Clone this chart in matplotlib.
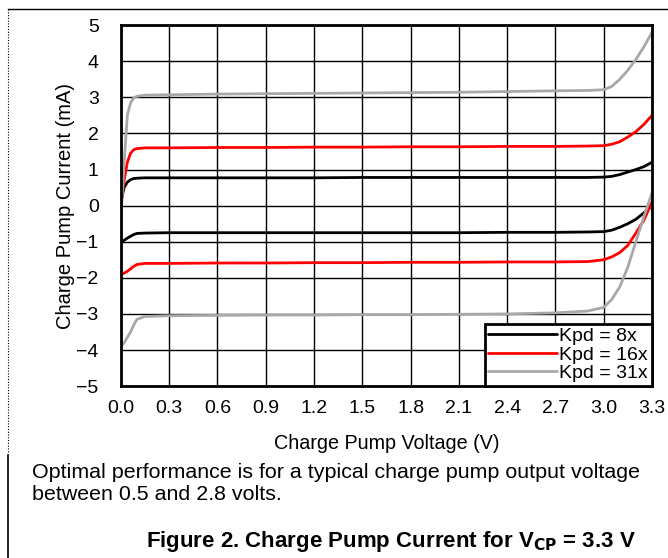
import matplotlib
matplotlib.use("Agg")
import matplotlib.pyplot as plt
from matplotlib.lines import Line2D

plt.rcParams['font.family'] = ['Liberation Sans', 'DejaVu Sans']
plt.rcParams['axes.unicode_minus'] = True

voltage = [0, 0.02, 0.04, 0.06, 0.08, 0.1, 0.15, 0.3, 0.6, 0.9, 1.2, 1.5, 1.8,
           2.1, 2.4, 2.7, 2.9, 3.0, 3.05, 3.1, 3.15, 3.2, 3.25, 3.3]

k8_source = [0.1, 0.5, 0.65, 0.72, 0.75, 0.76, 0.77, 0.77, 0.77, 0.77, 0.77, 0.78,
             0.78, 0.78, 0.78, 0.78, 0.78, 0.79, 0.81, 0.86, 0.93, 1.0, 1.08, 1.2]
k8_sink = [-1.0, -0.96, -0.9, -0.85, -0.8, -0.77, -0.76, -0.75, -0.75, -0.75, -0.75,
           -0.75, -0.75, -0.75, -0.74, -0.74, -0.73, -0.72, -0.68, -0.6, -0.5, -0.38,
           -0.2, 0.0]
k16_source = [0.0, 0.7, 1.2, 1.45, 1.55, 1.58, 1.6, 1.6, 1.61, 1.61, 1.62, 1.62,
              1.63, 1.63, 1.64, 1.64, 1.65, 1.66, 1.7, 1.77, 1.9, 2.05, 2.25, 2.5]
k16_sink = [-1.9, -1.87, -1.82, -1.75, -1.68, -1.63, -1.6, -1.6, -1.59, -1.59, -1.58,
            -1.58, -1.57, -1.57, -1.56, -1.56, -1.55, -1.5, -1.42, -1.3, -1.1, -0.76,
            -0.4, 0.1]
k31_source = [-0.3, 1.2, 2.5, 2.85, 2.98, 3.03, 3.06, 3.07, 3.09, 3.1, 3.11, 3.12,
              3.13, 3.14, 3.16, 3.18, 3.19, 3.21, 3.3, 3.5, 3.75, 4.05, 4.4, 4.8]
k31_sink = [-3.9, -3.8, -3.65, -3.5, -3.3, -3.15, -3.07, -3.05, -3.04, -3.03, -3.03,
            -3.02, -3.02, -3.01, -3.0, -2.97, -2.92, -2.82, -2.6, -2.25, -1.7, -1.0,
            -0.3, 0.35]

series_labels = ['Kpd = 8x', 'Kpd = 16x', 'Kpd = 31x']
series_colors = ['black', '#ff0000', '#a8a8a8']

x_ticks = [0.0, 0.3, 0.6, 0.9, 1.2, 1.5, 1.8, 2.1, 2.4, 2.7, 3.0, 3.3]
y_ticks = [-5, -4, -3, -2, -1, 0, 1, 2, 3, 4, 5]

fig = plt.figure(figsize=(6.68, 5.58), dpi=100)
ax = fig.add_axes([0.181, 0.308, 0.795, 0.647])

pairs = [(k8_source, k8_sink), (k16_source, k16_sink), (k31_source, k31_sink)]
for (src, snk), lab, col in zip(pairs, series_labels, series_colors):
    ax.plot(voltage, src, color=col, lw=2.0, label=lab, solid_capstyle='round',
            solid_joinstyle='round', zorder=3)
    ax.plot(voltage, snk, color=col, lw=2.0, solid_capstyle='round',
            solid_joinstyle='round', zorder=3)

ax.set_xlim(0, 3.3)
ax.set_ylim(-5, 5)
ax.set_xticks(x_ticks)
ax.set_xticklabels([f"{v:.1f}" for v in x_ticks])
ax.set_yticks(y_ticks)
ax.set_yticklabels([str(v).replace('-', '\u2212') for v in y_ticks])
ax.tick_params(length=0, labelsize=14, pad=10)
ax.tick_params(axis='y', pad=16)
ax.grid(True, color='black', lw=1.0, zorder=1)
for s in ax.spines.values():
    s.set_linewidth(2.0)
    s.set_zorder(4)

ax.set_xlabel('Charge Pump Voltage (V)', fontsize=14.2, labelpad=12)
ax.set_ylabel('Charge Pump Current (mA)', fontsize=14.5, labelpad=1)

leg = ax.legend(loc='lower right', fontsize=14, frameon=True, fancybox=False,
                borderaxespad=0, handlelength=3.5, handletextpad=0.15,
                labelspacing=0.05, borderpad=0.2)
leg.get_frame().set_edgecolor('black')
leg.get_frame().set_linewidth(2.0)
leg.get_frame().set_alpha(1)

fig.text(32/668, 1 - 473/558, 'Optimal performance is for a typical charge pump output voltage',
         fontsize=15.4, va='center', ha='left')
fig.text(32/668, 1 - 495/558, 'between 0.5 and 2.8 volts.',
         fontsize=15.4, va='center', ha='left')
fig.text(391/668, 1 - 541/558, r'Figure 2. Charge Pump Current for V$_{\mathbf{CP}}$ = 3.3 V',
         fontsize=16, fontweight='bold', va='center', ha='center')

# page frame lines
fig.add_artist(Line2D([8/668, 1], [1 - 9/558, 1 - 9/558], color='black', lw=1.0,
                      transform=fig.transFigure))
fig.add_artist(Line2D([8/668, 8/668], [1 - 9/558, 1 - 452/558], color='black', lw=0.8,
                      ls=(0, (1, 1.5)), transform=fig.transFigure))
fig.add_artist(Line2D([8/668, 8/668], [1 - 455/558, 0], color='black', lw=1.2,
                      transform=fig.transFigure))

fig.savefig('out.png', dpi=100)
